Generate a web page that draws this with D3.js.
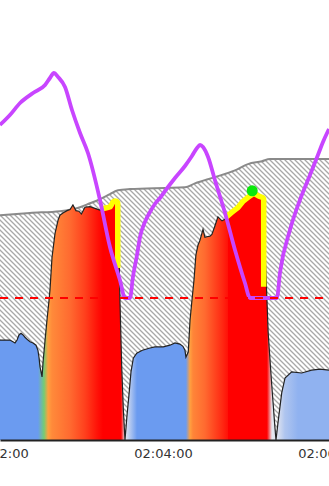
<!DOCTYPE html>
<html><head><meta charset="utf-8">
<script src="https://cdn.jsdelivr.net/npm/d3@7"></script>
<style>html,body{margin:0;padding:0;background:#fff;overflow:hidden}svg{display:block}</style>
</head><body>
<svg id="chart" width="329" height="486"></svg>
<script>
// ---- data (time = seconds after 02:02:00) ----
const viewSeconds = [0.73, 241.5];
const tickSeconds = [0, 120, 240];
const ftpWatts = 250;

// power [sec, W]
const power = [[0.7,176],[4.4,176],[8.0,176],[10.2,173],[11.7,171],[13.2,176],[14.6,185],[16.1,188],[17.6,185],[19.0,181],[21.2,176],[22.7,173],[24.9,171],[27.1,167],[28.5,158],[29.3,145],[30.0,129],[31.5,111],[32.2,136],[33.7,176],[35.1,211],[36.6,246],[37.3,264],[38.8,322],[41.0,364],[43.2,387],[44.6,396],[46.8,400],[49.8,404],[52.0,406],[54.1,414],[56.3,404],[58.5,403],[60.3,398],[62.9,410],[66.6,411],[70.2,408],[73.9,405],[77.6,405],[81.2,405],[84.9,405],[87.1,405],[87.8,335],[88.5,246],[89.8,129],[91.0,53],[92.2,0],[93.7,44],[95.1,79],[96.6,120],[98.3,144],[100.8,153],[104.9,158],[110.5,162],[114.1,164],[120.2,164],[125.1,167],[128.8,171],[132.4,169],[134.6,165],[136.1,158],[136.8,146],[138.5,155],[139.8,211],[141.2,246],[142.7,282],[144.1,326],[145.6,343],[147.1,352],[149.3,371],[150.7,357],[152.2,358],[154.4,359],[155.8,362],[158.0,377],[160.2,393],[163.2,386],[165.4,389],[166.8,391],[169.0,393],[172.7,395],[176.3,395],[180.0,396],[183.7,397],[187.3,396],[191.0,395],[193.2,391],[194.7,335],[196.1,246],[197.0,188],[199.5,100],[201.9,23],[202.7,0],[204.4,35],[206.9,83],[209.3,109],[214.2,120],[221.5,118],[228.8,123],[234.9,125],[241.5,123]];

// upper envelope (hatched area) [sec, W]
const ceiling = [[0.7,396],[22.7,400],[44.6,403],[59.3,410],[66.6,417],[73.9,424],[81.2,433],[87.1,440],[95.9,442],[121.5,444],[136.1,445],[143.4,452],[158.0,463],[172.7,475],[182.2,486],[192.4,491],[198.3,495],[241.5,495]];

// peak efforts [sec, W]
const peak1 = [[76.8,403],[80.5,405],[82.7,407],[84.1,412],[84.9,416],[84.9,303]];
const peak2 = [[167.6,389],[172.0,398],[176.3,406],[180.0,417],[183.7,424],[186.6,429],[189.5,425],[191.7,423],[191.7,270]];
const peakMarker = [185.3, 439];

// W' balance [sec, kJ]
const wbal = [[0.7,13.84],[8.0,14.64],[15.4,15.6],[24.9,16.4],[33.7,17.04],[37.3,17.6],[40.2,18.0],[43.2,17.68],[48.3,16.88],[53.4,15.04],[59.3,13.2],[65.1,11.6],[73.9,7.84],[81.2,4.08],[88.5,1.44],[92.2,0],[95.9,0],[98.0,1.68],[101.0,3.44],[103.2,4.88],[106.8,6.08],[110.5,6.88],[114.1,7.52],[117.8,8.0],[121.5,8.56],[128.8,9.6],[136.1,10.56],[141.2,11.36],[144.9,12.0],[147.1,12.24],[149.3,12.08],[153.0,11.28],[158.0,9.44],[165.4,6.8],[172.7,3.84],[180.0,1.2],[183.7,0],[203.4,0],[205.6,2.0],[212.9,5.44],[220.2,7.84],[227.6,9.84],[233.4,11.44],[237.1,12.48],[241.5,13.52]];

// intensity zone along time [sec, zone]
const zoneStops = [[0.7,2],[28.5,2],[32.9,3],[35.9,4],[38.8,4.4],[52.0,5],[62.9,5.4],[72.4,5.85],[76.1,6],[89.3,6],[92.2,1],[101.0,2],[136.8,2],[139.8,4],[142.0,4.5],[150.7,5],[163.2,5.6],[170.5,6],[196.1,6],[199.8,1],[204.2,1.1],[209.2,1.45],[218.8,1.7],[241.5,1.7]];

// ---- drawing ----
const W = 329, H = 486, baseY = 440;
const base = new Date(2000, 0, 1, 2, 2, 0);
const t = s => new Date(base.getTime() + s * 1000);
const x = d3.scaleTime().domain(viewSeconds.map(t)).range([0, W]);
const y = d3.scaleLinear().domain([0, 775]).range([baseY, 0]);
const yW = d3.scaleLinear().domain([0, 20]).range([298, 48]);
const zoneColor = d3.scaleLinear().domain([1, 2, 3, 4, 5, 6])
  .range(["#e6e8ef", "#6b9bf0", "#74cc74", "#ffa040", "#ff6a30", "#ff0000"]);

const svg = d3.select("#chart");
const defs = svg.append("defs");
const pat = defs.append("pattern").attr("id", "hatch").attr("patternUnits", "userSpaceOnUse")
  .attr("width", 5).attr("height", 5);
pat.append("rect").attr("width", 5).attr("height", 5).attr("fill", "#fff");
pat.append("path").attr("d", "M0,0L5,5M-1,4L1,6M4,-1L6,1")
  .attr("stroke", "#a8a8a8").attr("stroke-width", 1.3);

const grad = defs.append("linearGradient").attr("id", "zones")
  .attr("gradientUnits", "userSpaceOnUse").attr("x1", 0).attr("x2", W).attr("y1", 0).attr("y2", 0);
grad.selectAll("stop").data(zoneStops).join("stop")
  .attr("offset", d => x(t(d[0])) / W)
  .attr("stop-color", d => zoneColor(d[1]));

const px = d => x(t(d[0]));

// hatched envelope
svg.append("path").datum(ceiling)
  .attr("d", d3.area().x(px).y0(baseY).y1(d => y(d[1])).curve(d3.curveMonotoneX))
  .attr("fill", "url(#hatch)");
svg.append("path").datum(ceiling)
  .attr("d", d3.line().x(px).y(d => y(d[1])).curve(d3.curveMonotoneX))
  .attr("fill", "none").attr("stroke", "#8a8a8a").attr("stroke-width", 2);

// power
svg.append("path").datum(power)
  .attr("d", d3.area().x(px).y0(baseY).y1(d => y(d[1])))
  .attr("fill", "url(#zones)");
svg.append("path").datum(power)
  .attr("d", d3.line().x(px).y(d => y(d[1])))
  .attr("fill", "none").attr("stroke", "#222").attr("stroke-width", 1.2);

// peaks
[peak1, peak2].forEach(p => {
  svg.append("path").datum(p)
    .attr("d", d3.line().x(px).y(d => y(d[1])))
    .attr("fill", "none").attr("stroke", "#ffff00").attr("stroke-width", 11)
    .attr("stroke-linejoin", "round");
  svg.append("path").datum(p)
    .attr("d", d3.area().x(px).y0(baseY).y1(d => y(d[1])))
    .attr("fill", "#ff0000");
});

// W' balance
svg.append("path").datum(wbal)
  .attr("d", d3.line().x(px).y(d => yW(d[1])).curve(d3.curveMonotoneX))
  .attr("fill", "none").attr("stroke", "#c845ff").attr("stroke-width", 3.8)
  .attr("stroke-linejoin", "round");

// FTP line
svg.append("line").attr("x1", 0).attr("x2", W)
  .attr("y1", y(ftpWatts)).attr("y2", y(ftpWatts))
  .attr("stroke", "#ff0000").attr("stroke-width", 2).attr("stroke-dasharray", "8,7");

// peak marker
svg.append("circle").attr("cx", x(t(peakMarker[0]))).attr("cy", y(peakMarker[1]))
  .attr("r", 5.5).attr("fill", "#0be80b");

// axis
const ax = svg.append("g").attr("transform", `translate(0,${baseY})`)
  .call(d3.axisBottom(x).tickValues(tickSeconds.map(t))
    .tickFormat(d3.timeFormat("%H:%M:%S")).tickSize(0).tickPadding(9));
ax.select(".domain").attr("stroke", "#222").attr("stroke-width", 2);
ax.selectAll("text").attr("font-family", "DejaVu Sans, sans-serif").attr("font-size", 13).attr("fill", "#333");
</script>
</body></html>
